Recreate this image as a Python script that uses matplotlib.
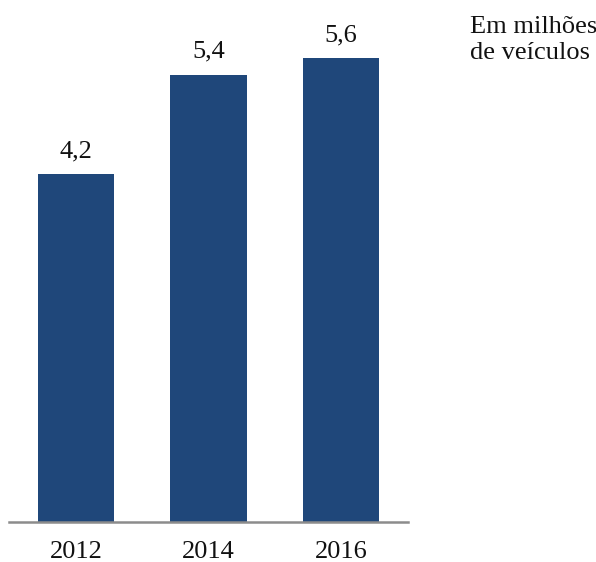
import matplotlib
matplotlib.use("Agg")
import matplotlib.pyplot as plt

plt.rcParams['font.family'] = ['Liberation Serif', 'DejaVu Serif']

years = ["2012", "2014", "2016"]
vehicles = [4.2, 5.4, 5.6]
value_labels = ["4,2", "5,4", "5,6"]

W, H = 596, 562
fig = plt.figure(figsize=(W / 100, H / 100), dpi=100)
# axes placed in pixel terms: baseline at y=522, spanning x 9..408
ax = fig.add_axes([9 / W, (H - 522) / H, (408 - 9) / W, 522 / H])

x = range(len(years))
bars = ax.bar(x, vehicles, width=0.574, color="#1f477a")
for b, lab in zip(bars, value_labels):
    ax.annotate(lab, (b.get_x() + b.get_width() / 2, b.get_height()),
                xytext=(0, 8.5), textcoords="offset points",
                ha="center", va="bottom", fontsize=19, color="#111111")

ax.set_xlim(-0.505, 2.505)
ax.set_ylim(0, 6.3)
ax.set_xticks(list(x))
ax.set_xticklabels(years, fontsize=19, color="#111111")
ax.tick_params(axis="x", length=0, pad=14)
ax.set_yticks([])
for side in ["top", "right", "left"]:
    ax.spines[side].set_visible(False)
ax.spines["bottom"].set_color("#8c8c8c")
ax.spines["bottom"].set_linewidth(1.8)

fig.text(470 / W, 1 - 16 / H, "Em milhões\nde veículos", ha="left", va="top",
         fontsize=19, color="#111111", linespacing=1.25)

fig.savefig("out.png", dpi=100)
